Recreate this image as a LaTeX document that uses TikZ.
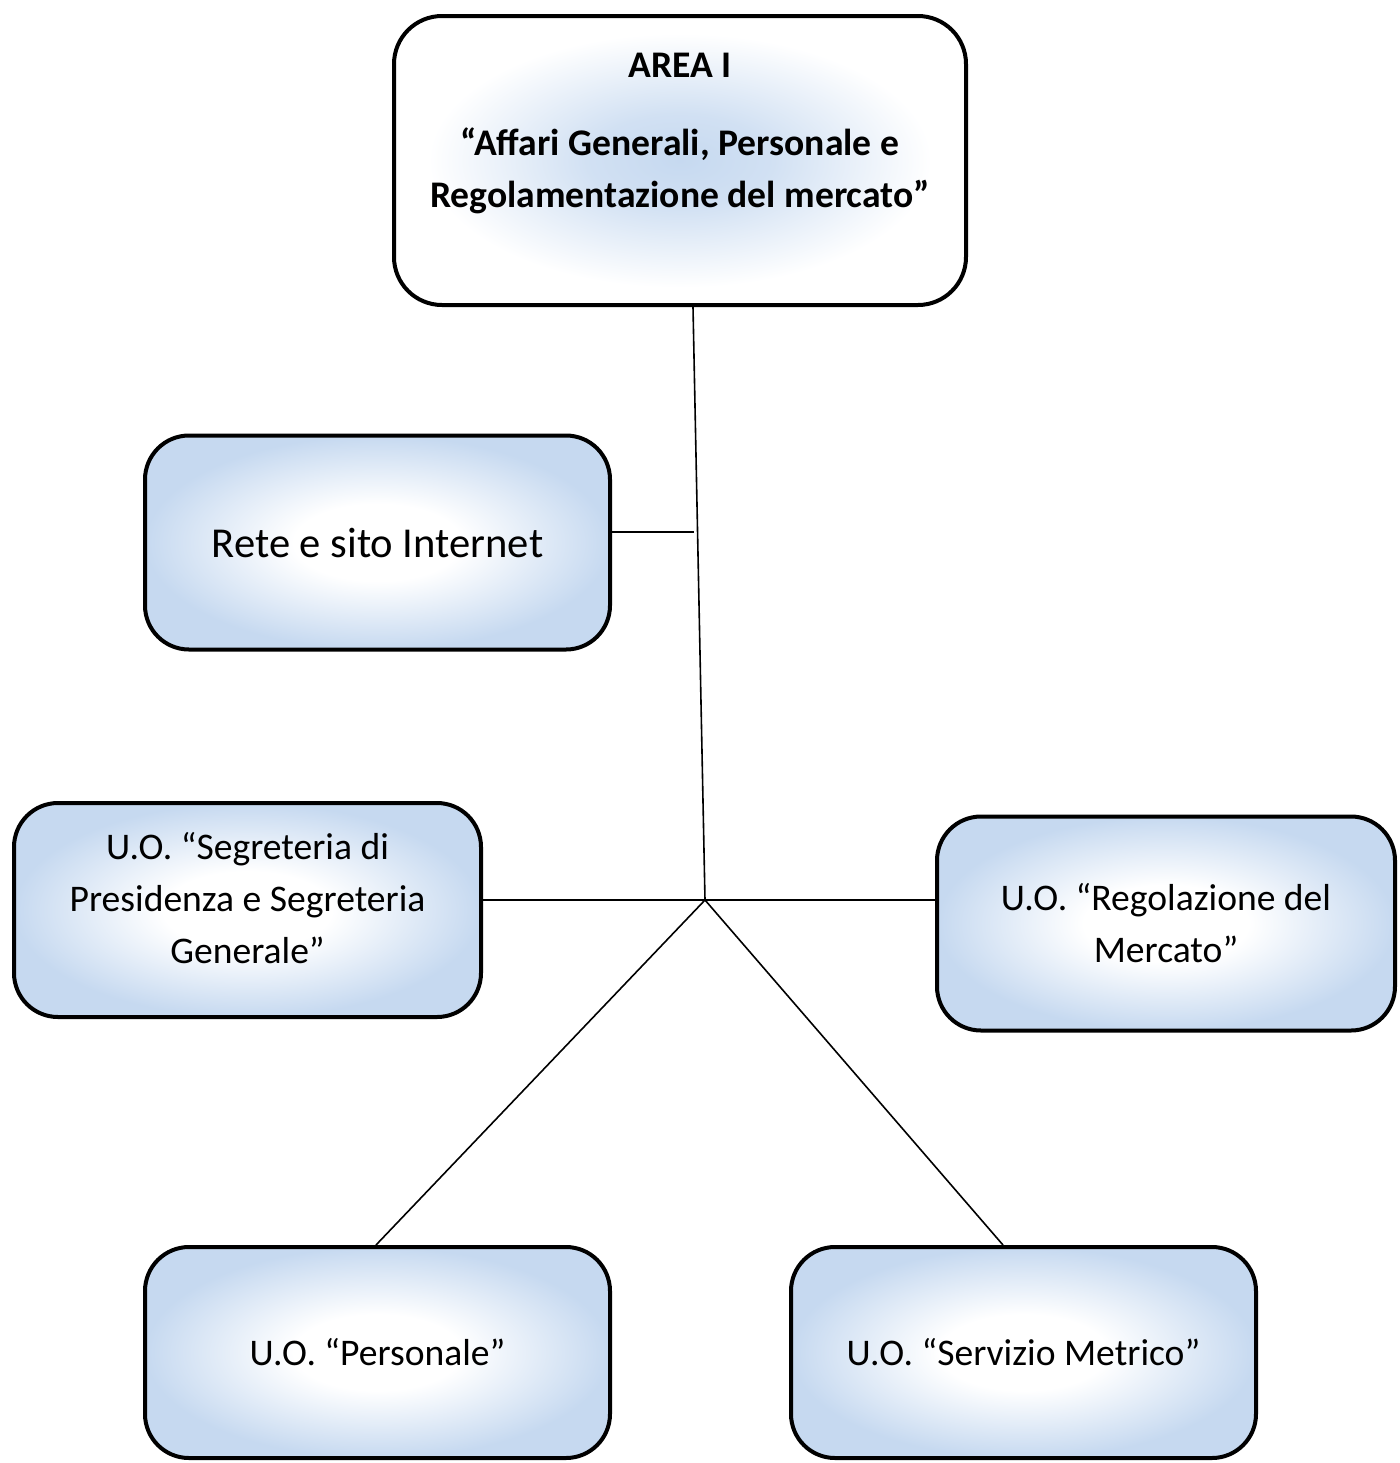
\documentclass[tikz,border=0pt]{standalone}
\usepackage{fontspec}
\setmainfont{Carlito}
\usetikzlibrary{calc}
\definecolor{boxblue}{RGB}{198,217,240}
\pgfdeclareradialshading{unitglow}{\pgfpoint{0bp}{0bp}}{color(0bp)=(white); color(9bp)=(white); color(25bp)=(boxblue); color(50bp)=(boxblue)}
\pgfdeclareradialshading{areaglow}{\pgfpoint{0bp}{0bp}}{color(0bp)=(boxblue); color(8bp)=(boxblue!80); color(22bp)=(white); color(50bp)=(white)}
\begin{document}
\begin{tikzpicture}[x=0.5pt,y=-0.5pt,
    unitbox/.style={draw, line width=2pt, rounded corners=22pt, shading=unitglow,
        align=center, font=\fontsize{18.8}{26}\selectfont,
        minimum width=#1*0.5pt-2pt, minimum height=109pt-2pt, inner sep=0pt},
    areabox/.style={draw, line width=2pt, rounded corners=24pt, shading=areaglow,
        minimum width=288pt-2pt, minimum height=146.5pt-2pt, inner sep=0pt},
    link/.style={line width=0.8pt}]
    \useasboundingbox (0,0) rectangle (1399,1463);
    \node [areabox] (area) at (680,160.5) {};
    \node [align=center, font=\fontsize{18.8}{26}\selectfont\bfseries] (areatitle) at (680,133)
        {AREA I\\[13pt]“Affari Generali, Personale e\\Regolamentazione del mercato”};
    \node [unitbox=469, font=\fontsize{21.3}{28}\selectfont] (rete) at (377.5,542.5) {Rete e sito Internet};
    \node [unitbox=471] (segreteria) at (247.5,910) {};
    \node [align=center, font=\fontsize{18.8}{26}\selectfont] (segtext) at (247.5,898)
        {U.O. “Segreteria di\\Presidenza e Segreteria\\Generale”};
    \node [unitbox=462] (regolazione) at (1166,923.5) {U.O. “Regolazione del\\Mercato”};
    \node [unitbox=469, minimum height=107.5pt-2pt] (personale) at (377.5,1352.5) {U.O. “Personale”};
    \node [unitbox=469, minimum height=107.5pt-2pt] (metrico) at (1023.5,1352.5) {U.O. “Servizio Metrico”};
    \coordinate (hub) at (705,900);
    \coordinate (areafoot) at ($(area.south)+(13,0)$);
    \coordinate (reteend) at (694,532);
    \draw [link] (areafoot) -- (hub);
    \draw [link] (rete.east |- reteend) -- (reteend);
    \draw [link] (segreteria.east |- hub) -- (hub);
    \draw [link] (hub) -- (hub -| regolazione.west);
    \draw [link] (hub) -- ($(personale.north)+(-1.5,0)$);
    \draw [link] (hub) -- ($(metrico.north)+(-20.5,0)$);
\end{tikzpicture}
\end{document}
